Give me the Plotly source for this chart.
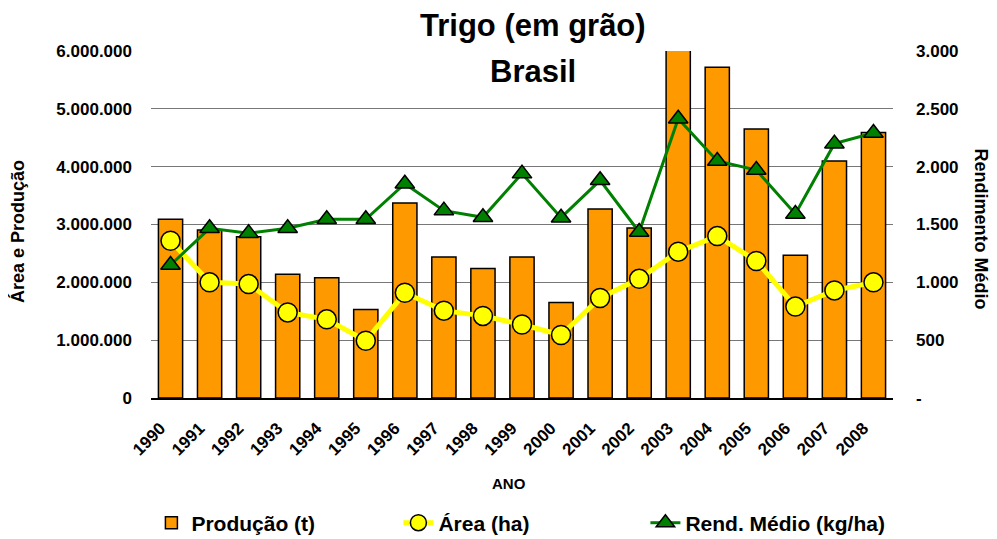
import plotly.graph_objects as go

anos = [str(y) for y in range(1990, 2009)]
producao = [3090000, 2905000, 2790000, 2140000, 2080000, 1530000, 3370000, 2440000, 2240000, 2440000,
            1650000, 3270000, 2940000, 6030000, 5720000, 4650000, 2470000, 4100000, 4590000]
area = [2720000, 2000000, 1970000, 1480000, 1360000, 990000, 1820000, 1510000, 1420000, 1270000,
        1090000, 1730000, 2060000, 2530000, 2800000, 2370000, 1580000, 1860000, 2000000]
rendimento = [1150, 1467, 1424, 1467, 1545, 1545, 1853, 1620, 1562, 1940,
              1559, 1882, 1435, 2415, 2049, 1971, 1591, 2199, 2291]

left_ticks = [0, 1000000, 2000000, 3000000, 4000000, 5000000, 6000000]
left_labels = ["0", "1.000.000", "2.000.000", "3.000.000", "4.000.000", "5.000.000", "6.000.000"]
right_ticks = [0, 500, 1000, 1500, 2000, 2500, 3000]
right_labels = ["-", "500", "1.000", "1.500", "2.000", "2.500", "3.000"]

FONT = "Liberation Sans, Arial, sans-serif"

# the page body has an 8px default margin, so the figure is sized to fit the window
W, H = 989, 531

fig = go.Figure()
fig.add_trace(go.Bar(
    x=anos, y=producao, name="Produção (t)",
    marker=dict(color="#FF9900", line=dict(color="black", width=1.5)),
))
fig.add_trace(go.Scatter(
    x=anos, y=area, name="Área (ha)", mode="lines+markers",
    line=dict(color="#FFFF00", width=5),
    marker=dict(symbol="circle", size=19, color="#FFFF00", line=dict(color="black", width=1.5)),
))
fig.add_trace(go.Scatter(
    x=anos, y=rendimento, name="Rend. Médio (kg/ha)", mode="lines+markers", yaxis="y2",
    line=dict(color="#008000", width=3),
    marker=dict(symbol="triangle-up", size=17, color="#008000", line=dict(color="black", width=1.5)),
))

fig.update_layout(
    width=W, height=H,
    margin=dict(l=143, r=104, t=43, b=141, pad=0, autoexpand=False),
    paper_bgcolor="white", plot_bgcolor="white",
    font=dict(family=FONT, color="black"),
    bargap=0.38,
    showlegend=True,
    legend=dict(
        orientation="h", xref="container", yref="container",
        x=0.145, xanchor="left", y=0.03, yanchor="middle",
        font=dict(size=21, family=FONT, weight="bold"),
        entrywidth=202, entrywidthmode="pixels",
        bgcolor="rgba(0,0,0,0)",
    ),
    xaxis=dict(
        type="category", range=[-0.5, 18.5], autorange=False, automargin=False,
        tickangle=-45,
        tickfont=dict(size=17, family=FONT, weight="bold"),
        showline=True, linecolor="black", linewidth=1.5,
        showgrid=False, ticks="",
        ticklabelshift=-10, ticklabelstandoff=12,
    ),
    yaxis=dict(
        range=[0, 6000000], tickvals=left_ticks, ticktext=left_labels, automargin=False,
        tickfont=dict(size=17, family=FONT, weight="bold"),
        showgrid=True, gridcolor="#777777", gridwidth=1,
        zeroline=False, showline=False, ticks="",
        ticklabelstandoff=18,
    ),
    yaxis2=dict(
        range=[0, 3000], tickvals=right_ticks, ticktext=right_labels, automargin=False,
        overlaying="y", side="right",
        tickfont=dict(size=17, family=FONT, weight="bold"),
        showgrid=False, zeroline=False, showline=False, ticks="",
        ticklabelstandoff=22,
    ),
    annotations=[
        dict(text="<b>Trigo (em grão)</b>", xref="paper", yref="paper", x=0.5148, y=1.0735,
             xanchor="center", yanchor="middle", showarrow=False, font=dict(size=31, family=FONT)),
        dict(text="<b>Brasil</b>", xref="paper", yref="paper", x=0.5148, y=0.9395,
             xanchor="center", yanchor="middle", showarrow=False, font=dict(size=31, family=FONT)),
        dict(text="<b>ANO</b>", xref="paper", yref="paper", x=0.4825, y=-0.245,
             xanchor="center", yanchor="middle", showarrow=False, font=dict(size=15, family=FONT)),
        dict(text="<b>Área e Produção</b>", xref="paper", yref="paper", x=-0.1806, y=0.481,
             xanchor="center", yanchor="middle", showarrow=False, textangle=-90,
             font=dict(size=18, family=FONT)),
        dict(text="<b>Rendimento Médio</b>", xref="paper", yref="paper", x=1.118, y=0.487,
             xanchor="center", yanchor="middle", showarrow=False, textangle=90,
             font=dict(size=18, family=FONT)),
    ],
)

fig.write_html("out.html")
